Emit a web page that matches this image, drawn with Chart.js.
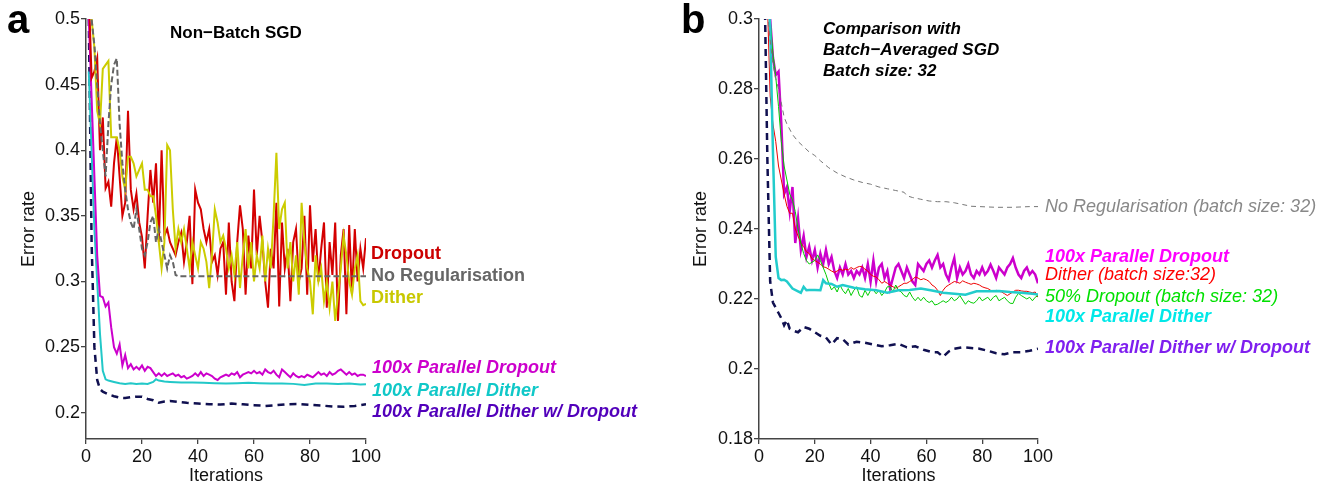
<!DOCTYPE html>
<html>
<head>
<meta charset="utf-8">
<script src="https://cdn.jsdelivr.net/npm/chart.js@4.4.1/dist/chart.umd.min.js"></script>
<style>
  body { margin: 0; background: #fff; width: 1337px; height: 488px; overflow: hidden; position: relative; font-family: "Liberation Sans", Arial, sans-serif; }
  .box { position: absolute; top: 0; height: 488px; }
  .lab { position: absolute; white-space: nowrap; font-size: 18px; line-height: 18px; z-index: 2; }
  .b { font-weight: bold; }
  .i { font-style: italic; }
</style>
</head>
<body>
<div class="box" style="left:0;width:386px"><canvas id="chartA"></canvas></div>
<div class="box" style="left:680px;width:378px"><canvas id="chartB"></canvas></div>

<div class="lab b" style="left:7px;top:-1px;font-size:40px;line-height:40px">a</div>
<div class="lab b" style="left:681px;top:-1px;font-size:40px;line-height:40px">b</div>
<div class="lab b" style="left:170px;top:24px;font-size:17px">Non−Batch SGD</div>
<div class="lab b i" style="left:823px;top:18px;font-size:17px;line-height:21px">Comparison with<br>Batch−Averaged SGD<br>Batch size: 32</div>

<div class="lab b" style="left:371px;top:244px;color:#cc0000">Dropout</div>
<div class="lab b" style="left:371px;top:266px;color:#666666">No Regularisation</div>
<div class="lab b" style="left:371px;top:288px;color:#c8c800">Dither</div>
<div class="lab b i" style="left:372px;top:358px;color:#cc00cc">100x Parallel Dropout</div>
<div class="lab b i" style="left:372px;top:381px;color:#10c8c8">100x Parallel Dither</div>
<div class="lab b i" style="left:372px;top:402px;color:#5200bb">100x Parallel Dither w/ Dropout</div>

<div class="lab i" style="left:1045px;top:197px;color:#888888">No Regularisation (batch size: 32)</div>
<div class="lab b i" style="left:1045px;top:247px;color:#ff00ff">100x Parallel Dropout</div>
<div class="lab i" style="left:1045px;top:265px;color:#ff0000">Dither (batch size:32)</div>
<div class="lab i" style="left:1045px;top:287px;color:#00e000">50% Dropout (batch size: 32)</div>
<div class="lab b i" style="left:1045px;top:307px;color:#00e8e8">100x Parallel Dither</div>
<div class="lab b i" style="left:1045px;top:338px;color:#7f1fef">100x Parallel Dither w/ Dropout</div>

<script>
// iteration index shared by the dense series
const iters = Array.from({length: 100}, (_, i) => i + 1);
const xTicks = [0, 20, 40, 60, 80, 100];
const yTicksA = [0.2, 0.25, 0.3, 0.35, 0.4, 0.45, 0.5];
const yTicksB = [0.18, 0.2, 0.22, 0.24, 0.26, 0.28, 0.3];

// ---- panel a: non-batch SGD ----
const dropoutA = [
  0.52, 0.455, 0.46, 0.47, 0.40, 0.425, 0.371, 0.376, 0.357, 0.39,
  0.41, 0.38, 0.35, 0.36, 0.43, 0.37, 0.355, 0.367, 0.345, 0.334,
  0.31, 0.35, 0.385, 0.36, 0.39, 0.33, 0.40, 0.335, 0.34, 0.33,
  0.325, 0.32, 0.33, 0.337, 0.315, 0.33, 0.35, 0.298, 0.37, 0.36,
  0.355, 0.34, 0.33, 0.34, 0.315, 0.32, 0.305, 0.325, 0.33, 0.29,
  0.345, 0.30, 0.285, 0.33, 0.358, 0.34, 0.29, 0.335, 0.31, 0.37,
  0.32, 0.35, 0.33, 0.30, 0.28, 0.325, 0.31, 0.36, 0.281, 0.345,
  0.31, 0.325, 0.285, 0.33, 0.34, 0.30, 0.31, 0.35, 0.29, 0.358,
  0.315, 0.34, 0.30, 0.325, 0.345, 0.28, 0.33, 0.305, 0.345, 0.27,
  0.32, 0.34, 0.275, 0.343, 0.29, 0.34, 0.30, 0.325, 0.31, 0.333
];
const ditherA = [
  0.52, 0.50, 0.478, 0.43, 0.42, 0.462, 0.465, 0.468, 0.41, 0.41,
  0.41, 0.40, 0.38, 0.37, 0.395, 0.395, 0.39, 0.38, 0.385, 0.39,
  0.37, 0.37, 0.365, 0.365, 0.35, 0.33, 0.31, 0.33, 0.404, 0.40,
  0.355, 0.325, 0.34, 0.33, 0.34, 0.325, 0.31, 0.33, 0.32, 0.31,
  0.33, 0.325, 0.315, 0.295, 0.32, 0.355, 0.345, 0.33, 0.335, 0.325,
  0.31, 0.32, 0.305, 0.33, 0.295, 0.32, 0.34, 0.31, 0.33, 0.30,
  0.32, 0.31, 0.335, 0.30, 0.325, 0.31, 0.35, 0.398, 0.34, 0.355,
  0.36, 0.31, 0.33, 0.30, 0.32, 0.29, 0.36, 0.33, 0.31, 0.30,
  0.275, 0.32, 0.30, 0.31, 0.285, 0.30, 0.28, 0.30, 0.27, 0.29,
  0.31, 0.335, 0.32, 0.30, 0.29, 0.31, 0.32, 0.285, 0.282, 0.283
];
const noRegA_x = [1, 2, 3, 4, 5, 6, 7, 8, 9, 10, 11, 12, 13, 14, 15, 16, 17, 18, 19, 20,
  21, 22, 23, 24, 25, 26, 27, 28, 29, 30, 31, 32, 33, 50, 75, 100];
const noRegA = [0.52, 0.50, 0.48, 0.45, 0.42, 0.40, 0.38, 0.42, 0.45, 0.465, 0.47, 0.42,
  0.39, 0.37, 0.355, 0.345, 0.34, 0.355, 0.34, 0.325, 0.32, 0.33, 0.345, 0.35, 0.33,
  0.34, 0.33, 0.32, 0.31, 0.32, 0.315, 0.305, 0.304, 0.304, 0.304, 0.304];
const parDropA = [
  0.50, 0.44, 0.38, 0.32, 0.289, 0.288, 0.281, 0.284, 0.265, 0.25,
  0.245, 0.252, 0.236, 0.244, 0.234, 0.237, 0.233, 0.235, 0.233, 0.236,
  0.232, 0.235, 0.234, 0.231, 0.228, 0.230, 0.228, 0.230, 0.228, 0.229,
  0.230, 0.228, 0.229, 0.227, 0.228, 0.226, 0.227, 0.228, 0.230, 0.228,
  0.231, 0.228, 0.230, 0.229, 0.228, 0.226, 0.225, 0.227, 0.228, 0.229,
  0.228, 0.230, 0.229, 0.231, 0.227, 0.229, 0.230, 0.231, 0.230, 0.232,
  0.230, 0.231, 0.229, 0.233, 0.231, 0.230, 0.232, 0.229, 0.227, 0.233,
  0.231, 0.229, 0.227, 0.230, 0.228, 0.227, 0.228, 0.227, 0.229, 0.228,
  0.227, 0.229, 0.231, 0.229, 0.230, 0.228, 0.231, 0.229, 0.230, 0.232,
  0.233, 0.231, 0.229, 0.231, 0.229, 0.230, 0.228, 0.229, 0.229, 0.228
];
const parDitherA_x = [1, 2, 3, 4, 5, 6, 7, 8, 10, 12, 14, 16, 18, 20, 22, 24, 25, 26, 28, 30,
  34, 38, 42, 46, 50, 54, 58, 62, 66, 70, 74, 78, 82, 86, 90, 94, 98, 100];
const parDitherA = [0.46, 0.40, 0.34, 0.30, 0.26, 0.232, 0.2255, 0.2245, 0.2235, 0.2225,
  0.222, 0.2225, 0.222, 0.2222, 0.222, 0.2235, 0.2255, 0.2245, 0.2238, 0.2235,
  0.223, 0.223, 0.2228, 0.2225, 0.2222, 0.2225, 0.2228, 0.2225, 0.2222, 0.2222,
  0.222, 0.2212, 0.2222, 0.2222, 0.222, 0.2222, 0.2215, 0.2218];
const parDithDropA_x = [1, 2, 3, 4, 5, 6, 8, 10, 12, 14, 16, 18, 20, 22, 24, 26, 28, 30, 33, 36,
  40, 44, 48, 52, 56, 60, 64, 68, 72, 76, 80, 84, 88, 92, 96, 100];
const parDithDropA = [0.50, 0.33, 0.25, 0.225, 0.218, 0.216, 0.214, 0.2126, 0.2115, 0.2112,
  0.2118, 0.2122, 0.2122, 0.2105, 0.2095, 0.2076, 0.2085, 0.209, 0.2082, 0.2076,
  0.207, 0.2065, 0.2062, 0.207, 0.2064, 0.2058, 0.2052, 0.2058, 0.2065, 0.2066,
  0.206, 0.2055, 0.2048, 0.2046, 0.2052, 0.2065];

// ---- panel b: batch-averaged SGD, batch size 32 ----
const noRegB_x = [1, 2, 3, 4, 5, 6, 7, 8, 9, 10, 12, 14, 16, 18, 20, 22, 25, 28, 31, 34,
  37, 40, 43, 46, 49, 52, 53, 55, 58, 61, 64, 67, 70, 73, 76, 79, 82, 85, 88, 91, 94, 97, 100];
const noRegB = [0.33, 0.315, 0.302, 0.294, 0.287, 0.283, 0.28, 0.276, 0.272, 0.27,
  0.267, 0.265, 0.2635, 0.262, 0.261, 0.2595, 0.2575, 0.256, 0.2549, 0.254,
  0.2533, 0.2528, 0.252, 0.2515, 0.251, 0.2505, 0.2495, 0.249, 0.2485, 0.248,
  0.2478, 0.2478, 0.2475, 0.247, 0.2465, 0.2464, 0.2463, 0.2462, 0.2462, 0.2462,
  0.2463, 0.2464, 0.2464];
const parDropB = [
  0.35, 0.34, 0.32, 0.30, 0.289, 0.284, 0.285, 0.27, 0.25, 0.252,
  0.245, 0.252, 0.236, 0.243, 0.234, 0.238, 0.232, 0.235, 0.231, 0.234,
  0.229, 0.233, 0.230, 0.234, 0.230, 0.232, 0.228, 0.226, 0.229, 0.227,
  0.230, 0.227, 0.228, 0.226, 0.228, 0.227, 0.229, 0.226, 0.230, 0.225,
  0.231, 0.225, 0.229, 0.230, 0.226, 0.228, 0.223, 0.226, 0.229, 0.230,
  0.228, 0.226, 0.229, 0.227, 0.225, 0.224, 0.230, 0.229, 0.228, 0.230,
  0.231, 0.229, 0.231, 0.2326, 0.229, 0.230, 0.227, 0.2254, 0.229, 0.2317,
  0.226, 0.229, 0.227, 0.228, 0.230, 0.227, 0.226, 0.228, 0.227, 0.229,
  0.227, 0.228, 0.2298, 0.228, 0.226, 0.229, 0.228, 0.227, 0.229, 0.230,
  0.2317, 0.229, 0.227, 0.226, 0.228, 0.229, 0.227, 0.228, 0.227, 0.2245
];
const ditherB = [
  0.35, 0.33, 0.305, 0.278, 0.27, 0.265, 0.258, 0.254, 0.25, 0.2465,
  0.2445, 0.2445, 0.24, 0.238, 0.236, 0.235, 0.2335, 0.233, 0.2315, 0.231,
  0.2305, 0.23, 0.2292, 0.229, 0.2285, 0.228, 0.2276, 0.228, 0.2285, 0.2282,
  0.2285, 0.2283, 0.229, 0.2285, 0.229, 0.2293, 0.2292, 0.2285, 0.228, 0.227,
  0.2265, 0.2263, 0.2255, 0.2245, 0.225, 0.2245, 0.224, 0.2235, 0.2231, 0.2235,
  0.224, 0.2245, 0.2245, 0.225, 0.2255, 0.2263, 0.226, 0.2255, 0.2258, 0.2255,
  0.225, 0.224, 0.2235, 0.2225, 0.221, 0.2225, 0.2235, 0.224, 0.2245, 0.225,
  0.2248, 0.2245, 0.2252, 0.2248, 0.2245, 0.2242, 0.2245, 0.2243, 0.224, 0.2235,
  0.2232, 0.223, 0.2225, 0.2222, 0.2225, 0.2222, 0.222, 0.2215, 0.221, 0.2215,
  0.222, 0.2225, 0.2225, 0.2223, 0.2222, 0.2222, 0.222, 0.2218, 0.222, 0.2205
];
const dropoutB = [
  0.35, 0.34, 0.32, 0.30, 0.29, 0.2835, 0.275, 0.265, 0.258, 0.254,
  0.25, 0.2483, 0.245, 0.24, 0.236, 0.233, 0.231, 0.230, 0.2305, 0.231,
  0.2326, 0.231, 0.229, 0.227, 0.2245, 0.2226, 0.2235, 0.222, 0.224, 0.2225,
  0.2215, 0.223, 0.221, 0.2225, 0.2235, 0.221, 0.2205, 0.2225, 0.221, 0.2225,
  0.2226, 0.2215, 0.2225, 0.221, 0.222, 0.2235, 0.2235, 0.222, 0.224, 0.2225,
  0.222, 0.221, 0.2206, 0.222, 0.2205, 0.2195, 0.2205, 0.2195, 0.2205, 0.2195,
  0.219, 0.2195, 0.2183, 0.2185, 0.219, 0.2195, 0.219, 0.2195, 0.2205, 0.2195,
  0.22, 0.221, 0.2197, 0.2185, 0.2195, 0.219, 0.2188, 0.2195, 0.2206, 0.2195,
  0.22, 0.2205, 0.2195, 0.2205, 0.221, 0.2195, 0.22, 0.2205, 0.2195, 0.2188,
  0.2187, 0.2205, 0.2216, 0.221, 0.2205, 0.22, 0.2205, 0.2195, 0.2205, 0.221
];
const parDitherB_x = [1, 2, 3, 4, 5, 6, 7, 8, 9, 10, 12, 14, 15, 16, 17, 18, 20, 22, 23, 24,
  26, 28, 30, 34, 38, 42, 46, 50, 54, 58, 62, 66, 70, 74, 78, 82, 86, 90, 94, 98, 100];
const parDitherB = [0.36, 0.33, 0.31, 0.298, 0.262, 0.232, 0.226, 0.2254, 0.2255, 0.225,
  0.223, 0.2222, 0.2218, 0.2235, 0.2225, 0.2226, 0.2226, 0.2225, 0.2254, 0.2245,
  0.2243, 0.2235, 0.224, 0.2232, 0.2228, 0.2225, 0.2218, 0.2225, 0.2226, 0.223,
  0.2224, 0.2218, 0.2215, 0.2212, 0.2222, 0.2222, 0.2223, 0.222, 0.2218, 0.2215, 0.2213];
const parDithDropB_x = [1, 2, 3, 4, 5, 6, 7, 8, 9, 10, 11, 12, 14, 16, 18, 20, 22, 24, 26, 28,
  30, 32, 35, 38, 41, 44, 47, 50, 53, 56, 59, 62, 64, 66, 68, 70, 73, 76, 79, 82,
  85, 88, 91, 94, 97, 100];
const parDithDropB = [0.36, 0.31, 0.26, 0.225, 0.219, 0.2175, 0.216, 0.2145, 0.2125, 0.214,
  0.2115, 0.211, 0.2105, 0.212, 0.2115, 0.2105, 0.2095, 0.209, 0.207, 0.2088,
  0.2085, 0.207, 0.2078, 0.2075, 0.207, 0.2065, 0.2068, 0.2072, 0.2062, 0.2065,
  0.2055, 0.2048, 0.2048, 0.2035, 0.205, 0.2058, 0.2062, 0.206, 0.2058, 0.2052,
  0.2045, 0.2042, 0.2048, 0.2048, 0.2052, 0.2058];

const pts = (xs, ys) => ys.map((y, i) => ({x: xs[i], y: y}));

const line = (label, xs, ys, color, width, dash) => ({
  label: label,
  data: pts(xs, ys),
  borderColor: color,
  backgroundColor: color,
  borderWidth: width,
  borderDash: dash || [],
  pointRadius: 0,
  tension: 0,
  fill: false
});

const tickFont = {family: '"Liberation Sans", Arial, sans-serif', size: 18};

const makeOptions = (ymin, ymax, yTicks, yWidth, titlePad) => ({
  responsive: true,
  maintainAspectRatio: false,
  animation: false,
  layout: {padding: {top: 19, right: 20, bottom: 0, left: 0}},
  plugins: {legend: {display: false}, tooltip: {enabled: false}},
  scales: {
    x: {
      type: 'linear',
      min: 0,
      max: 100,
      afterBuildTicks: s => { s.ticks = xTicks.map(v => ({value: v})); },
      afterFit: s => { s.height = 49; },
      grid: {display: true, drawOnChartArea: false, drawTicks: true, tickLength: 5, color: '#444', lineWidth: 1.3},
      border: {display: true, color: '#444', width: 1.5},
      ticks: {color: '#111', font: tickFont, padding: 2, maxRotation: 0},
      title: {display: true, text: 'Iterations', color: '#111', font: tickFont, padding: {top: 0, bottom: 1}}
    },
    y: {
      type: 'linear',
      min: ymin,
      max: ymax,
      afterBuildTicks: s => { s.ticks = yTicks.map(v => ({value: v})); },
      afterFit: s => { s.width = yWidth; },
      grid: {display: true, drawOnChartArea: false, drawTicks: true, tickLength: 5, color: '#444', lineWidth: 1.3},
      border: {display: true, color: '#444', width: 1.5},
      ticks: {color: '#111', font: tickFont, padding: 1, callback: v => String(v)},
      title: {display: true, text: 'Error rate', color: '#111', font: tickFont, padding: {top: titlePad, bottom: 0}}
    }
  }
});

new Chart(document.getElementById('chartA'), {
  type: 'line',
  data: {
    datasets: [
      line('No Regularisation', noRegA_x, noRegA, '#666666', 2, [6, 3]),
      line('Dither', iters, ditherA, '#cccc00', 2),
      line('Dropout', iters, dropoutA, '#d40000', 2),
      line('100x Parallel Dropout', iters, parDropA, '#cc00cc', 2),
      line('100x Parallel Dither', parDitherA_x, parDitherA, '#22c8c8', 2),
      line('100x Parallel Dither w/ Dropout', parDithDropA_x, parDithDropA, '#101050', 2.5, [7, 5])
    ]
  },
  options: makeOptions(0.18, 0.5, yTicksA, 86, 18)
});

new Chart(document.getElementById('chartB'), {
  type: 'line',
  data: {
    datasets: [
      line('No Regularisation (batch size: 32)', noRegB_x, noRegB, '#777777', 1, [5, 4]),
      line('100x Parallel Dither', parDitherB_x, parDitherB, '#22cccc', 2.5),
      line('50% Dropout (batch size: 32)', iters, dropoutB, '#00cc00', 1),
      line('Dither (batch size:32)', iters, ditherB, '#ee0000', 1),
      line('100x Parallel Dropout', iters, parDropB, '#cc00cc', 2.5),
      line('100x Parallel Dither w/ Dropout', parDithDropB_x, parDithDropB, '#101050', 2.5, [7, 5])
    ]
  },
  options: makeOptions(0.18, 0.3, yTicksB, 79, 10)
});
</script>
</body>
</html>
